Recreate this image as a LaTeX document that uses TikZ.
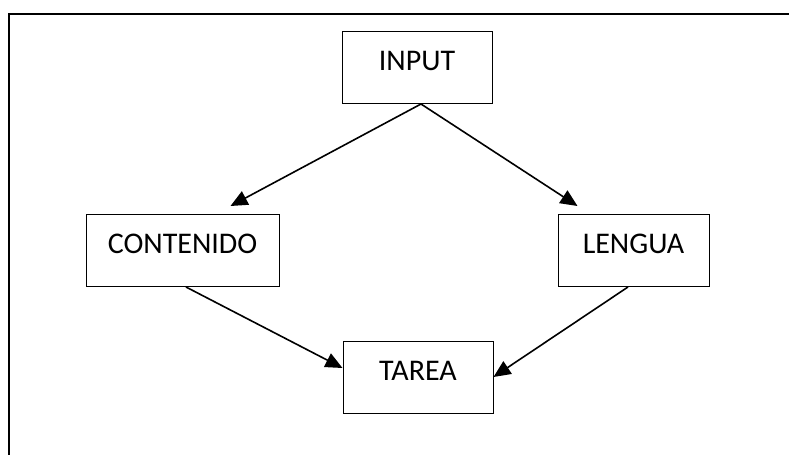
\documentclass[tikz,border=0pt]{standalone}
\usepackage{fontspec}
\setmainfont{Carlito}
\usetikzlibrary{arrows.meta}

\begin{document}
\begin{tikzpicture}[
  x=0.5pt, y=-0.5pt,
  font=\fontsize{15}{18}\selectfont,
  box/.style={draw=black, line width=0.5pt, minimum height=36pt, text height=9.6pt, text depth=6.5pt, align=center, inner sep=0pt},
  arr/.style={-{Triangle[length=8.5pt, width=7.5pt]}, line width=0.8pt}
]
\useasboundingbox (0,0) rectangle (789,455);

%% ---------- Frame (open at right and bottom) ----------
\draw[line width=1pt] (9,455) -- (9,14) -- (789,14);

%% ---------- Boxes ----------
\node[box, minimum width=75pt]   (input)     at (417,67.5)   {INPUT};
\node[box, minimum width=96.5pt] (contenido) at (182.5,250.5) {CONTENIDO};
\node[box, minimum width=75.5pt] (lengua)    at (633.5,250.5) {LENGUA};
\node[box, minimum width=75pt]   (tarea)     at (418,377)    {TAREA};

%% ---------- Arrows ----------
\draw[arr] ([xshift=2pt]input.south) -- ([xshift=24pt, yshift=4pt]contenido.north);
\draw[arr] ([xshift=2pt]input.south) -- ([xshift=-28pt, yshift=4pt]lengua.north);
\draw[arr] ([xshift=1.75pt]contenido.south) -- ([yshift=4.5pt]tarea.west);
\draw[arr] ([xshift=-2.75pt]lengua.south) -- (tarea.east);

\end{tikzpicture}
\end{document}
